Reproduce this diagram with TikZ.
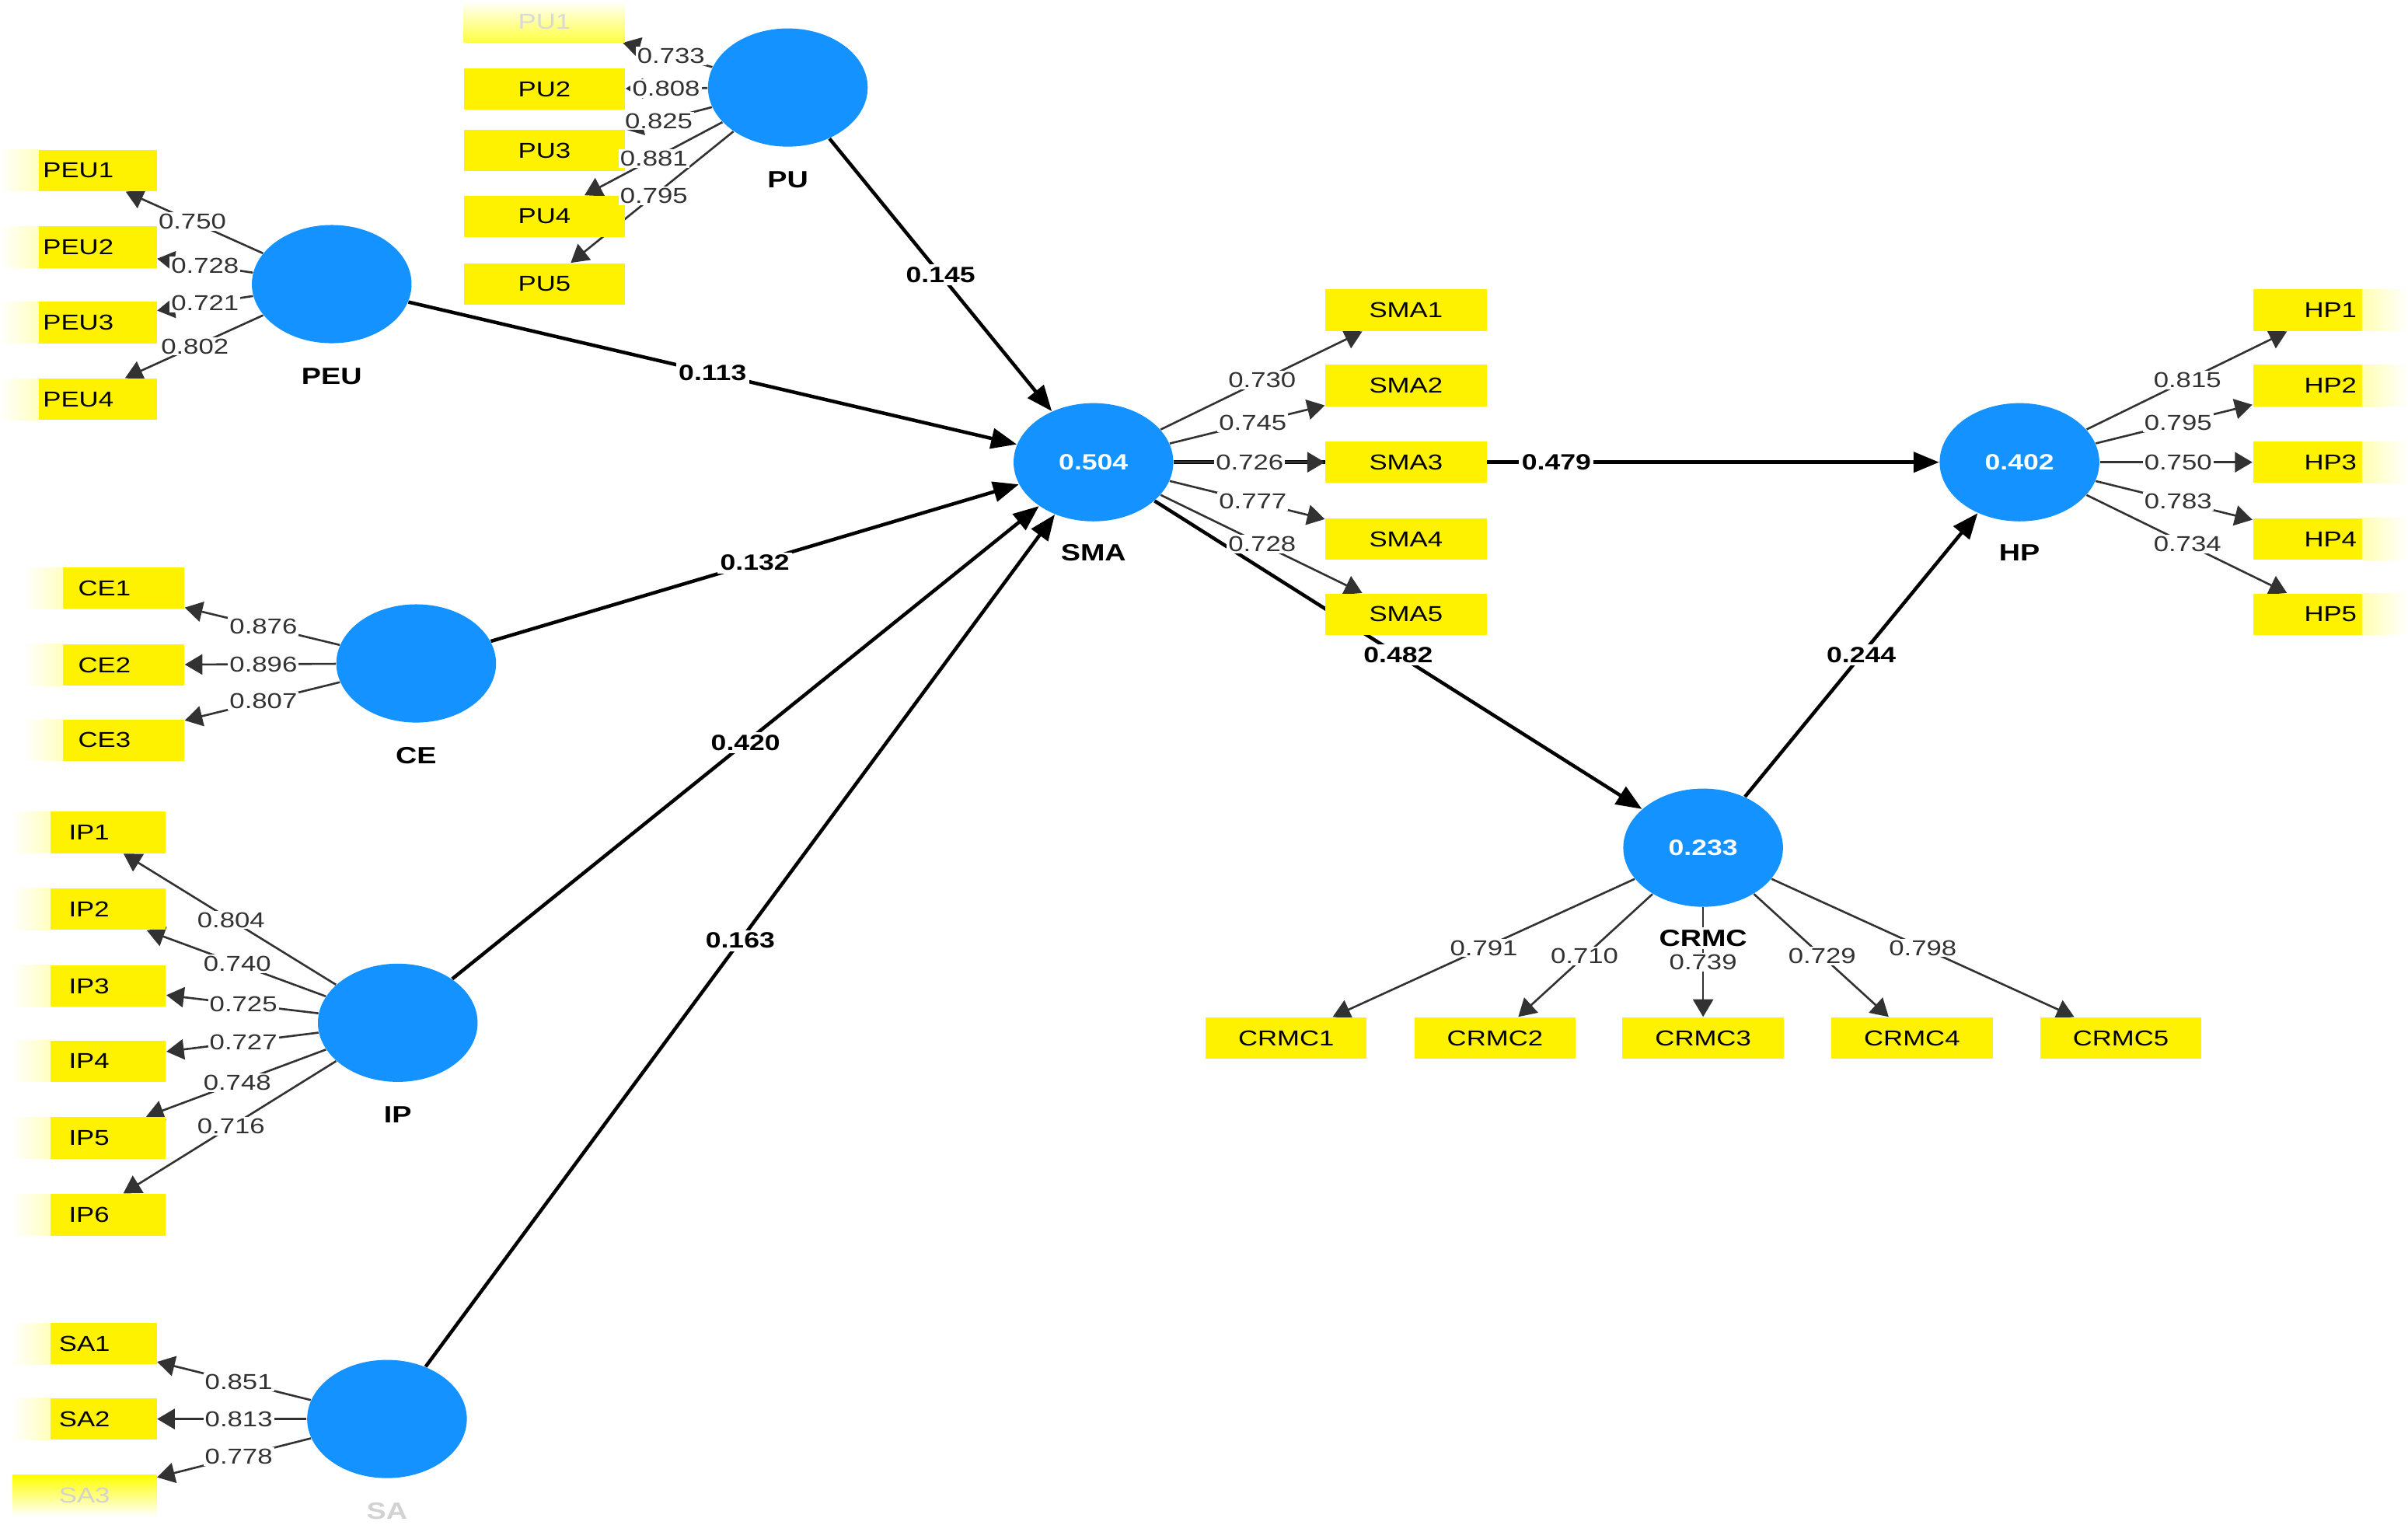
\documentclass[tikz,border=0pt]{standalone}
\usepackage{fontspec}
\setmainfont{Liberation Sans}[FakeStretch=1.25]
\usetikzlibrary{shapes.geometric,arrows.meta,calc}
\definecolor{lvblue}{RGB}{20,146,255}
\definecolor{ldgray}{RGB}{50,50,50}
\pgfdeclarelayer{bg}
\pgfsetlayers{bg,main}
\newcommand{\loadline}[4]{%
  \begin{pgfonlayer}{bg}\draw[ldarrow] (#1) -- (#2);\end{pgfonlayer}%
  \node[ldlab] (L#2) at ($(#1)!#3!(#2)$) {#4};}
\newcommand{\pathline}[3]{%
  \begin{pgfonlayer}{bg}\draw[ptarrow] (#1) -- (#2);\end{pgfonlayer}%
  \node[ptlab] (P#1#2) at ($(#1)!0.5!(#2)$) {#3};}
\begin{document}
\begin{tikzpicture}[x=0.02cm,y=-0.02cm,
  lv/.style={ellipse, fill=lvblue, minimum width=2.08cm, minimum height=1.54cm, inner sep=0pt, text=white, font=\fontsize{8.2}{10}\selectfont\bfseries},
  lvname/.style={fill=white, inner sep=1pt, font=\fontsize{8.7}{10}\selectfont\bfseries},
  ind/.style={rectangle, fill=yellow, minimum height=0.54cm, minimum width=2.1cm, inner sep=0pt, font=\fontsize{8}{10}\selectfont},
  fadeL/.style={path picture={\shade[left color=white,right color=yellow] ([xshift=-0.2pt]path picture bounding box.south west) rectangle ([xshift=0.5cm]path picture bounding box.north west);}},
  fadeR/.style={path picture={\shade[left color=yellow,right color=white] ([xshift=-0.6cm]path picture bounding box.south east) rectangle ([xshift=0.2pt]path picture bounding box.north east);}},
  ldarrow/.style={draw=ldgray, line width=0.75pt, -{Triangle[length=6.5pt,width=7.5pt]}},
  ptarrow/.style={draw=black, line width=1.3pt, -{Triangle[length=9.5pt,width=7.5pt]}},
  ldlab/.style={fill=white, inner sep=0.6pt, text=ldgray, font=\fontsize{8}{10}\selectfont},
  ptlab/.style={fill=white, inner sep=1pt, font=\fontsize{8.2}{10}\selectfont\bfseries}
]
\begin{pgfonlayer}{bg}
\fill[white] (0,0) rectangle (1568,993);
\end{pgfonlayer}

% latent variables
\node[lv] (PU) at (513,57) {};
\node[lvname] (PUn) at (513,117) {PU};
\node[lv] (PEU) at (216,185) {};
\node[lvname] (PEUn) at (216,245) {PEU};
\node[lv] (CE) at (271,432) {};
\node[lvname] (CEn) at (271,492) {CE};
\node[lv] (IP) at (259,666) {};
\node[lvname] (IPn) at (259,726) {IP};
\node[lv] (SA) at (252,924) {};
\node[lvname, text=gray!35] (SAn) at (252,984) {SA};
\node[lv] (SMA) at (712,301) {0.504};
\node[lvname] (SMAn) at (712,360) {SMA};
\node[lv] (HP) at (1315,301) {0.402};
\node[lvname] (HPn) at (1315,360) {HP};
\node[lv] (CRMC) at (1109,552) {0.233};
\node[lvname] (CRMCn) at (1109,611) {CRMC};

% indicators
\node[ind, fill=none, top color=white, bottom color=yellow!75, text=gray!30] (PU1) at (354.5,14) {PU1};
\node[ind] (PU2) at (354.5,58) {PU2};
\node[ind] (PU3) at (354.5,98) {PU3};
\node[ind] (PU4) at (354.5,141) {PU4};
\node[ind] (PU5) at (354.5,185) {PU5};

\node[ind, fadeL, minimum width=2.04cm] (PEU1) at (51,111) {PEU1};
\node[ind, fadeL, minimum width=2.04cm] (PEU2) at (51,161) {PEU2};
\node[ind, fadeL, minimum width=2.04cm] (PEU3) at (51,210) {PEU3};
\node[ind, fadeL, minimum width=2.04cm] (PEU4) at (51,260) {PEU4};

\node[ind, fadeL, minimum width=2.08cm] (CE1) at (68,383) {CE1};
\node[ind, fadeL, minimum width=2.08cm] (CE2) at (68,433) {CE2};
\node[ind, fadeL, minimum width=2.08cm] (CE3) at (68,482) {CE3};

\node[ind, fadeL, minimum width=2.0cm] (IP1) at (58,542) {IP1};
\node[ind, fadeL, minimum width=2.0cm] (IP2) at (58,592) {IP2};
\node[ind, fadeL, minimum width=2.0cm] (IP3) at (58,642) {IP3};
\node[ind, fadeL, minimum width=2.0cm] (IP4) at (58,691) {IP4};
\node[ind, fadeL, minimum width=2.0cm] (IP5) at (58,741) {IP5};
\node[ind, fadeL, minimum width=2.0cm] (IP6) at (58,791) {IP6};

\node[ind, fadeL, minimum width=1.88cm] (SA1) at (55,875) {SA1};
\node[ind, fadeL, minimum width=1.88cm] (SA2) at (55,924) {SA2};
\node[ind, fill=none, top color=yellow, bottom color=white, minimum width=1.88cm, text=gray!35] (SA3) at (55,974) {SA3};

\node[ind] (SMA1) at (915.5,202) {SMA1};
\node[ind] (SMA2) at (915.5,251) {SMA2};
\node[ind] (SMA3) at (915.5,301) {SMA3};
\node[ind] (SMA4) at (915.5,351) {SMA4};
\node[ind] (SMA5) at (915.5,400) {SMA5};

\node[ind, fadeR, minimum width=2.02cm] (HP1) at (1517.5,202) {HP1};
\node[ind, fadeR, minimum width=2.02cm] (HP2) at (1517.5,251) {HP2};
\node[ind, fadeR, minimum width=2.02cm] (HP3) at (1517.5,301) {HP3};
\node[ind, fadeR, minimum width=2.02cm] (HP4) at (1517.5,351) {HP4};
\node[ind, fadeR, minimum width=2.02cm] (HP5) at (1517.5,400) {HP5};

\node[ind] (CRMC1) at (837.5,676) {CRMC1};
\node[ind] (CRMC2) at (973.5,676) {CRMC2};
\node[ind] (CRMC3) at (1109,676) {CRMC3};
\node[ind] (CRMC4) at (1245,676) {CRMC4};
\node[ind] (CRMC5) at (1381,676) {CRMC5};

% structural paths
\pathline{PU}{SMA}{0.145}
\pathline{PEU}{SMA}{0.113}
\pathline{CE}{SMA}{0.132}
\pathline{IP}{SMA}{0.420}
\pathline{SA}{SMA}{0.163}
\pathline{SMA}{HP}{0.479}
\pathline{SMA}{CRMC}{0.482}
\pathline{CRMC}{HP}{0.244}

% loadings
\loadline{PU}{PU1}{0.48}{0.733}
\loadline{PU}{PU2}{0.50}{0.808}
\loadline{PU}{PU3}{0.53}{0.825}
\loadline{PU}{PU4}{0.55}{0.881}
\loadline{PU}{PU5}{0.55}{0.795}

\loadline{PEU}{PEU1}{0.55}{0.750}
\loadline{PEU}{PEU2}{0.50}{0.728}
\loadline{PEU}{PEU3}{0.50}{0.721}
\loadline{PEU}{PEU4}{0.54}{0.802}

\loadline{CE}{CE1}{0.49}{0.876}
\loadline{CE}{CE2}{0.49}{0.896}
\loadline{CE}{CE3}{0.49}{0.807}

\loadline{IP}{IP1}{0.54}{0.804}
\loadline{IP}{IP2}{0.52}{0.740}
\loadline{IP}{IP3}{0.50}{0.725}
\loadline{IP}{IP4}{0.50}{0.727}
\loadline{IP}{IP5}{0.52}{0.748}
\loadline{IP}{IP6}{0.54}{0.716}

\loadline{SA}{SA1}{0.49}{0.851}
\loadline{SA}{SA2}{0.49}{0.813}
\loadline{SA}{SA3}{0.49}{0.778}

\loadline{SMA}{SMA1}{0.54}{0.730}
\loadline{SMA}{SMA2}{0.51}{0.745}
\loadline{SMA}{SMA3}{0.50}{0.726}
\loadline{SMA}{SMA4}{0.51}{0.777}
\loadline{SMA}{SMA5}{0.54}{0.728}

\loadline{HP}{HP1}{0.54}{0.815}
\loadline{HP}{HP2}{0.51}{0.795}
\loadline{HP}{HP3}{0.51}{0.750}
\loadline{HP}{HP4}{0.51}{0.783}
\loadline{HP}{HP5}{0.54}{0.734}

\loadline{CRMC}{CRMC1}{0.526}{0.791}
\loadline{CRMC}{CRMC2}{0.57}{0.710}
\loadline{CRMC}{CRMC3}{0.60}{0.739}
\loadline{CRMC}{CRMC4}{0.57}{0.729}
\loadline{CRMC}{CRMC5}{0.526}{0.798}

\pgfresetboundingbox
\useasboundingbox (0,0) rectangle (1568,993);
\end{tikzpicture}
\end{document}
